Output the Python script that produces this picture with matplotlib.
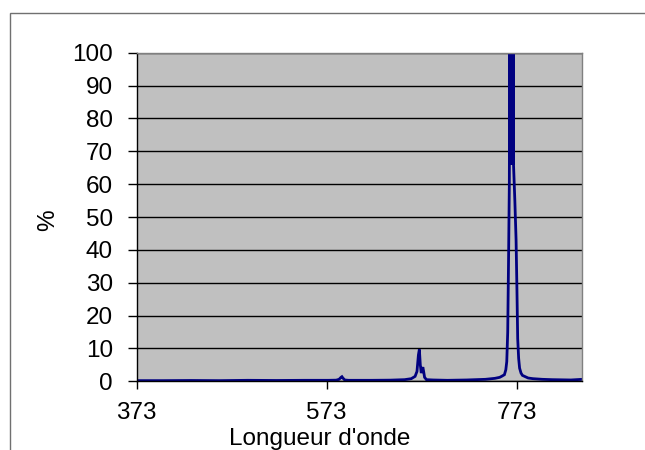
import matplotlib
matplotlib.use("Agg")
import matplotlib.pyplot as plt
from matplotlib.patches import Rectangle

plt.rcParams['font.family'] = ['Liberation Sans', 'DejaVu Sans']

# Wavelength (nm) and relative intensity (%)
wavelength = [373, 400, 430, 460, 490, 520, 550, 575, 583, 586, 588, 589, 590, 592, 596,
              620, 640, 655, 662, 666, 668, 669.5, 670.5, 671.5, 672.5, 673.5, 674.2, 675,
              676, 678, 685, 700, 720, 740, 750, 755, 757, 760, 761.5, 762.5, 763.5, 764.5,
              765.2,
              765.6, 765.9, 766.2, 766.5, 766.8, 767.1, 767.4, 767.7, 768.0, 768.3, 768.6,
              768.9, 769.2, 769.6,
              771, 772.3, 773.2, 774, 775, 776, 777.5, 779, 785, 790, 800, 810, 820, 830,
              836, 842]
intensity = [0.2, 0.2, 0.25, 0.2, 0.3, 0.25, 0.3, 0.3, 0.35, 0.6, 1.2, 1.4, 1.0, 0.4, 0.3,
             0.3, 0.35, 0.5, 0.8, 1.5, 3.0, 8.0, 9.7, 5.0, 2.5, 3.8, 4.3, 3.0,
             1.2, 0.5, 0.4, 0.3, 0.4, 0.6, 0.9, 1.2, 1.5, 2.0, 3.5, 6.0, 15.0, 40.0,
             60.0,
             100, 66, 100, 66, 100, 66, 100, 66, 100, 66, 100,
             66, 100, 66,
             55, 43, 28, 13, 7, 4, 2.5, 1.8, 1.0, 0.8, 0.6, 0.5, 0.45, 0.4,
             0.5, 0.6]

x_ticks = [373, 573, 773]
y_ticks = [0, 10, 20, 30, 40, 50, 60, 70, 80, 90, 100]

fig = plt.figure(figsize=(6.45, 4.5), dpi=100)
fig.patch.set_facecolor('white')

# outer chart border
fig.patches.append(Rectangle((10/645, -0.1), 1.2, 1 - 13/450 + 0.1,
                             transform=fig.transFigure, fill=False,
                             edgecolor='#707070', linewidth=1.0))

ax = fig.add_axes([136.7/645, 1 - 381.3/450, (582.3-136.7)/645, (381.3-52.7)/450])
ax.set_facecolor('#C0C0C0')

ax.plot(wavelength, intensity, color='#000080', linewidth=2.0, solid_joinstyle='miter')

ax.set_xlim(373, 842)
ax.set_ylim(0, 100)
ax.set_xticks(x_ticks)
ax.set_xticklabels([str(v) for v in x_ticks])
ax.set_yticks(y_ticks)

ax.set_axisbelow(True)
ax.yaxis.grid(True, color='black', linewidth=1.0)
ax.xaxis.grid(False)

for side in ['top', 'right']:
    ax.spines[side].set_color('#808080')
    ax.spines[side].set_linewidth(1.0)
for side in ['left', 'bottom']:
    ax.spines[side].set_color('black')
    ax.spines[side].set_linewidth(1.0)

ax.tick_params(axis='y', direction='out', length=6.5, width=1.0, pad=10.5,
               labelsize=17.5, colors='black')
ax.tick_params(axis='x', direction='out', length=6, width=1.0, pad=9,
               labelsize=17.5, colors='black')

ax.set_xlabel("Longueur d'onde", fontsize=17.5)
ax.xaxis.label.set_va('baseline')
ax.xaxis.set_label_coords((320-136.7)/445.6, -(445-381.3)/328.6)
ax.set_ylabel('%', fontsize=17.5)
ax.yaxis.label.set_va('center')
ax.yaxis.set_label_coords((48-136.7)/445.6, (381.3-220)/328.6)

fig.savefig('out.png', dpi=100)
